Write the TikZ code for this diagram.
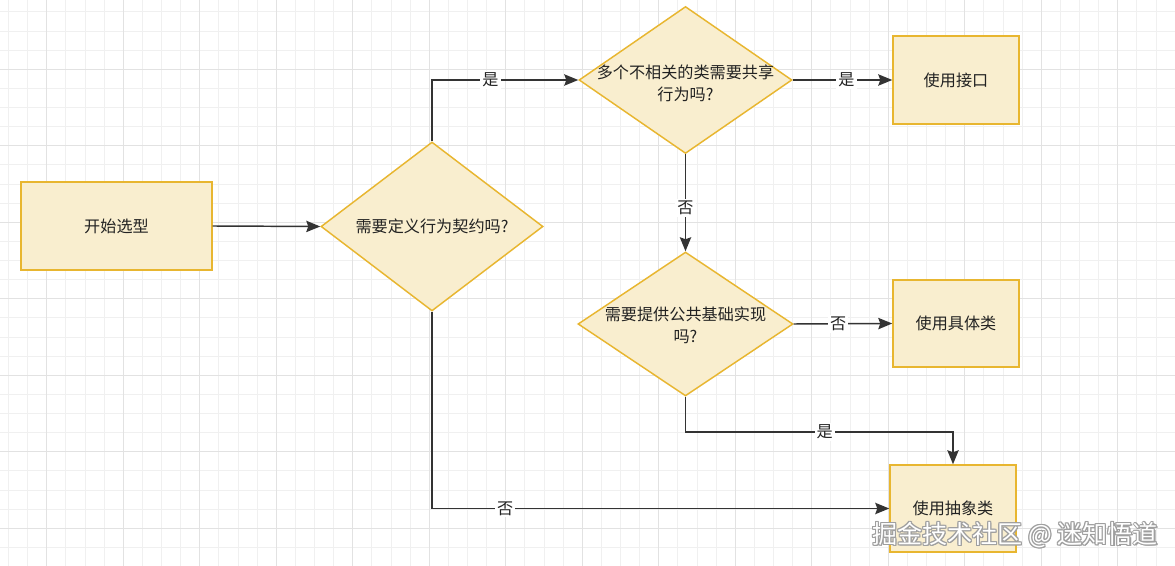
\documentclass[tikz,border=0pt]{standalone}
\usepackage{fontspec}
\setmainfont{Noto Sans CJK SC}
\usetikzlibrary{shapes.geometric,arrows.meta}
\definecolor{boxfill}{HTML}{F9EECF}
\definecolor{boxline}{HTML}{E8B630}
\definecolor{edgecol}{HTML}{333333}
\definecolor{txtcol}{HTML}{222222}
\definecolor{gridminor}{HTML}{F0F0F0}
\definecolor{gridmajor}{HTML}{E2E2E2}
\tikzset{
  basefont/.style={font=\fontsize{12.1pt}{16.5pt}\selectfont, text=txtcol},
  procbox/.style={draw=boxline, fill=boxfill, line width=1.1pt, rectangle, minimum width=94.5pt, minimum height=66pt, inner sep=0pt, basefont},
  decbox/.style={draw=boxline, fill=boxfill, line width=1.1pt, diamond, inner sep=0pt, basefont},
  arr/.style={draw=edgecol, line width=1.1pt, -{Stealth[length=10.5pt,width=8.5pt,inset=1.5pt]}},
  lab/.style={fill=white, inner sep=1.5pt, basefont},
}
\begin{document}
\begin{tikzpicture}[x=0.75pt,y=-0.75pt]
\useasboundingbox (0,0) rectangle (1175,566);
\fill[white] (0,0) rectangle (1175,566);
% grid
\foreach \i in {0,...,61} {
  \draw[gridminor, line width=0.6pt] (8.5+\i*19.125,0) -- (8.5+\i*19.125,566);
}
\foreach \i in {0,...,29} {
  \draw[gridminor, line width=0.6pt] (0,11.9+\i*19.125) -- (1175,11.9+\i*19.125);
}
\foreach \i in {0,...,15} {
  \draw[gridmajor, line width=0.7pt] (46.75+\i*76.5,0) -- (46.75+\i*76.5,566);
}
\foreach \i in {0,...,7} {
  \draw[gridmajor, line width=0.7pt] (0,69.3+\i*76.5) -- (1175,69.3+\i*76.5);
}
% nodes
\node[procbox, minimum width=143.25pt] (start) at (116.5,226) {开始选型};
\node[decbox, minimum width=166.5pt, minimum height=126.75pt,
      label={[basefont]center:需要定义行为契约吗?}] (d1) at (432,226.5) {};
\node[decbox, minimum width=159.75pt, minimum height=110.25pt,
      label={[basefont, align=center, yshift=-2.25pt]center:多个不相关的类需要共享\\行为吗?}] (d2) at (685.5,80) {};
\node[decbox, minimum width=161.25pt, minimum height=108pt,
      label={[basefont, align=center, yshift=-1pt]center:需要提供公共基础实现\\吗?}] (d3) at (685.5,324) {};
\node[procbox] (iface) at (956,80) {使用接口};
\node[procbox, minimum height=65.25pt] (concrete) at (956,323.5) {使用具体类};
\node[procbox, minimum height=65.25pt] (abstract) at (953,508.5) {使用抽象类};
\coordinate (j) at (685.5,432);
% edges
\draw[arr] (start.east) -- (d1.west);
\draw[arr] (d1.north) |- node[lab, pos=0.7] {是} (d2.west);
\draw[arr] (d2.east) -- node[lab, pos=0.54] {是} (iface.west);
\draw[arr] (d2.south) -- node[lab, pos=0.55] {否} (d3.north);
\draw[arr] (d3.east) -- node[lab, pos=0.45] {否} (concrete.west);
\draw[arr] (d3.south) -- (j) -| node[lab, pos=0.26] {是} (abstract.north);
\draw[arr] (d1.south) |- node[lab, pos=0.58] {否} (abstract.west);
% watermark
\foreach \dx/\dy in {-1/0,1/0,0/-1,0/1,-0.8/-0.8,0.8/0.8,-0.8/0.8,0.8/-0.8,1.3/1.3} {
  \node[anchor=west, inner sep=0pt, text=gray!75, font=\fontsize{18.8pt}{20pt}\selectfont] at (872+\dx,535+\dy) {掘金技术社区 @ 迷知悟道};
}
\node[anchor=west, inner sep=0pt, text=white, font=\fontsize{18.8pt}{20pt}\selectfont] (wm) at (872,535) {掘金技术社区 @ 迷知悟道};
\end{tikzpicture}
\end{document}
